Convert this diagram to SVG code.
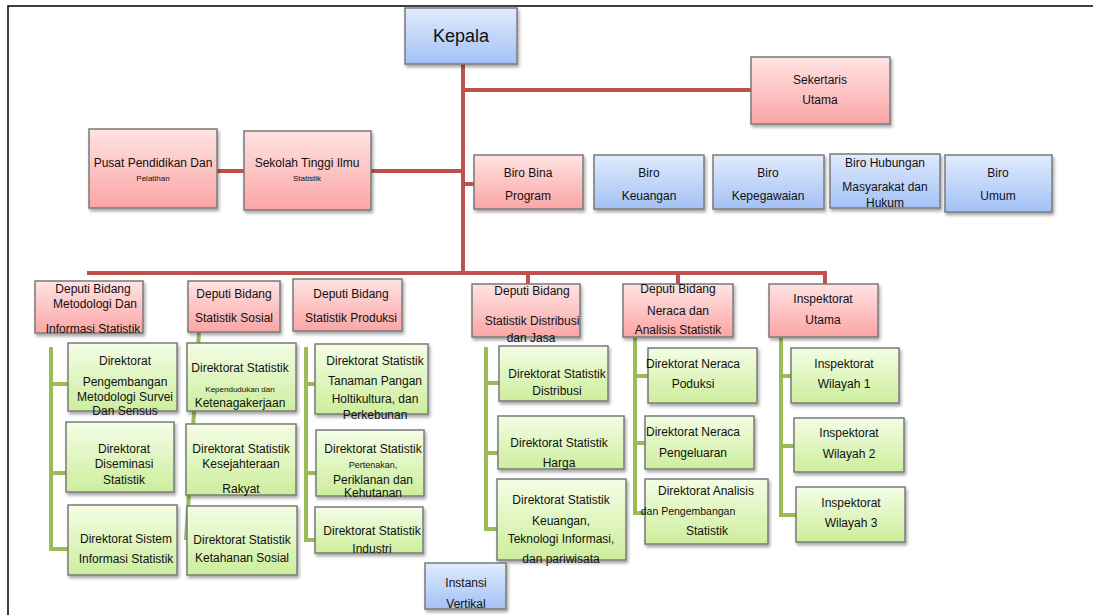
<svg xmlns="http://www.w3.org/2000/svg" width="1105" height="615" viewBox="0 0 1105 615">
<style>
text{font-family:"Liberation Sans",Arial,sans-serif;font-size:12px;fill:#111;text-anchor:middle}
.k{font-size:18px}
.s{font-size:8px}
.m{font-size:9px}
.box{stroke:#7a7a7a;stroke-width:1.5;filter:url(#sh)}
.red{fill:url(#gr)}
.blue{fill:url(#gb)}
.green{fill:url(#gg)}
.rl{stroke:#c0504d;stroke-width:4;fill:none}
.gl{stroke:#9bbb59;stroke-width:4;fill:none}
</style>
<defs>
<linearGradient id="gr" x1="0" y1="0" x2="0" y2="1"><stop offset="0" stop-color="#ffe3e3"/><stop offset="1" stop-color="#fba5a5"/></linearGradient>
<linearGradient id="gb" x1="0" y1="0" x2="0" y2="1"><stop offset="0" stop-color="#e0ebfd"/><stop offset="1" stop-color="#a3c1f5"/></linearGradient>
<linearGradient id="gg" x1="0" y1="0" x2="0" y2="1"><stop offset="0" stop-color="#f4fde6"/><stop offset="1" stop-color="#cdee9c"/></linearGradient>
<filter id="sh" x="-10%" y="-10%" width="130%" height="140%"><feDropShadow dx="1.5" dy="2.5" stdDeviation="1.8" flood-color="#000" flood-opacity="0.35"/></filter>
</defs>
<rect width="1105" height="615" fill="#fff"/>
<path d="M8,615 V6 H1093" fill="none" stroke="#000" stroke-width="1.5"/>
<g id="connectors">
<path class="rl" d="M463,64 V274 M461,90 H751 M217,171 H463 M463,184 H474 M87,273 H827 M528,273 V284 M678,273 V284 M825,273 V284"/>
<path class="gl" d="M51,347 V551 M51,384 H68 M51,473 H66 M51,549 H68"/>
<path class="gl" d="M199,332 L186,540"/>
<path class="gl" d="M306,347 V542 M306,384 H315 M306,473 H316 M306,540 H315"/>
<path class="gl" d="M486,347 V531 M486,383 H499 M486,453 H498 M486,529 H497"/>
<path class="gl" d="M635,337 V515 M635,376 H648 M635,443 H645 M635,513 H645"/>
<path class="gl" d="M781,337 V517 M781,376 H791 M781,446 H794 M781,515 H796"/>
</g>
<g id="kepala"><rect class="box blue" x="405" y="8" width="112" height="56"/><text class="k" x="461" y="42">Kepala</text></g>
<g id="sekertaris"><rect class="box red" x="751" y="57" width="139" height="67"/><text x="820" y="84">Sekertaris</text><text x="820" y="104">Utama</text></g>
<g id="pusat"><rect class="box red" x="89" y="129" width="128" height="79"/><text x="153" y="167">Pusat Pendidikan Dan</text><text class="s" x="153" y="181">Pelatihan</text></g>
<g id="sekolah"><rect class="box red" x="244" y="131" width="127" height="79"/><text x="307" y="167">Sekolah Tinggi Ilmu</text><text class="s" x="307" y="181">Statistik</text></g>
<g id="biro-bina"><rect class="box red" x="474" y="155" width="109" height="54"/><text x="528" y="177">Biro Bina</text><text x="528" y="200">Program</text></g>
<g id="biro-keuangan"><rect class="box blue" x="594" y="155" width="110" height="54"/><text x="649" y="177">Biro</text><text x="649" y="200">Keuangan</text></g>
<g id="biro-kepegawaian"><rect class="box blue" x="713" y="155" width="111" height="54"/><text x="768" y="177">Biro</text><text x="768" y="200">Kepegawaian</text></g>
<g id="biro-hubungan"><rect class="box blue" x="830" y="154" width="110" height="54"/><text x="885" y="167">Biro Hubungan</text><text x="885" y="191">Masyarakat dan</text><text x="885" y="207">Hukum</text></g>
<g id="biro-umum"><rect class="box blue" x="945" y="155" width="107" height="57"/><text x="998" y="177">Biro</text><text x="998" y="200">Umum</text></g>
<g id="deputi-metodologi"><rect class="box red" x="35" y="281" width="108" height="52"/><text x="93" y="293">Deputi Bidang</text><text x="95" y="308">Metodologi Dan</text><text x="93" y="333">Informasi Statistik</text></g>
<g id="deputi-sosial"><rect class="box red" x="188" y="281" width="92" height="51"/><text x="234" y="298">Deputi Bidang</text><text x="234" y="322">Statistik Sosial</text></g>
<g id="deputi-produksi"><rect class="box red" x="293" y="279" width="109" height="52"/><text x="351" y="298">Deputi Bidang</text><text x="351" y="322">Statistik Produksi</text></g>
<g id="deputi-distribusi"><rect class="box red" x="472" y="284" width="108" height="53"/><text x="532" y="295">Deputi Bidang</text><text x="532" y="325">Statistik Distribusi</text><text x="531" y="342">dan Jasa</text></g>
<g id="deputi-neraca"><rect class="box red" x="623" y="284" width="110" height="53"/><text x="678" y="293">Deputi Bidang</text><text x="678" y="315">Neraca dan</text><text x="678" y="334">Analisis Statistik</text></g>
<g id="inspektorat-utama"><rect class="box red" x="769" y="284" width="109" height="53"/><text x="823" y="303">Inspektorat</text><text x="823" y="324">Utama</text></g>
<g id="dir-pengembangan"><rect class="box green" x="68" y="343" width="109" height="68"/><text x="125" y="365">Direktorat</text><text x="125" y="386">Pengembangan</text><text x="125" y="401">Metodologi Survei</text><text x="125" y="415">Dan Sensus</text></g>
<g id="dir-diseminasi"><rect class="box green" x="66" y="422" width="108" height="70"/><text x="124" y="453">Direktorat</text><text x="124" y="468">Diseminasi</text><text x="124" y="484">Statistik</text></g>
<g id="dir-sistem"><rect class="box green" x="68" y="505" width="109" height="70"/><text x="126" y="543">Direktorat Sistem</text><text x="126" y="563">Informasi Statistik</text></g>
<g id="dir-kependudukan"><rect class="box green" x="187" y="343" width="109" height="68"/><text x="240" y="372">Direktorat Statistik</text><text class="s" x="240" y="392">Kependudukan dan</text><text x="240" y="407">Ketenagakerjaan</text></g>
<g id="dir-kesejahteraan"><rect class="box green" x="186" y="424" width="110" height="71"/><text x="241" y="453">Direktorat Statistik</text><text x="241" y="468">Kesejahteraan</text><text x="241" y="493">Rakyat</text></g>
<g id="dir-ketahanan"><rect class="box green" x="187" y="506" width="110" height="69"/><text x="242" y="544">Direktorat Statistik</text><text x="242" y="562">Ketahanan Sosial</text></g>
<g id="dir-tanaman"><rect class="box green" x="315" y="344" width="113" height="70"/><text x="375" y="365">Direktorat Statistik</text><text x="375" y="385">Tanaman Pangan</text><text x="375" y="403">Holtikultura, dan</text><text x="375" y="419">Perkebunan</text></g>
<g id="dir-pertenakan"><rect class="box green" x="316" y="430" width="108" height="66"/><text x="373" y="453">Direktorat Statistik</text><text class="m" x="373" y="468">Pertenakan,</text><text x="373" y="484">Periklanan dan</text><text x="373" y="497">Kehutanan</text></g>
<g id="dir-industri"><rect class="box green" x="315" y="507" width="108" height="46"/><text x="372" y="535">Direktorat Statistik</text><text x="372" y="553">Industri</text></g>
<g id="dir-distribusi"><rect class="box green" x="499" y="346" width="109" height="55"/><text x="557" y="378">Direktorat Statistik</text><text x="557" y="395">Distribusi</text></g>
<g id="dir-harga"><rect class="box green" x="498" y="416" width="126" height="53"/><text x="559" y="447">Direktorat Statistik</text><text x="559" y="467">Harga</text></g>
<g id="dir-keuangan"><rect class="box green" x="497" y="479" width="129" height="81"/><text x="561" y="504">Direktorat Statistik</text><text x="561" y="525">Keuangan,</text><text x="561" y="543">Teknologi Informasi,</text><text x="561" y="563">dan pariwisata</text></g>
<g id="dir-neraca-produksi"><rect class="box green" x="648" y="348" width="109" height="55"/><text x="693" y="368">Direktorat Neraca</text><text x="693" y="388">Poduksi</text></g>
<g id="dir-neraca-pengeluaran"><rect class="box green" x="645" y="416" width="109" height="53"/><text x="693" y="436">Direktorat Neraca</text><text x="693" y="457">Pengeluaran</text></g>
<g id="dir-analisis"><rect class="box green" x="645" y="479" width="123" height="65"/><text x="706" y="495">Direktorat Analisis</text><text x="688" y="515" style="font-size:10.5px">dan Pengembangan</text><text x="707" y="535">Statistik</text></g>
<g id="inspektorat-1"><rect class="box green" x="791" y="348" width="108" height="55"/><text x="844" y="368">Inspektorat</text><text x="844" y="388">Wilayah 1</text></g>
<g id="inspektorat-2"><rect class="box green" x="794" y="418" width="110" height="54"/><text x="849" y="437">Inspektorat</text><text x="849" y="458">Wilayah 2</text></g>
<g id="inspektorat-3"><rect class="box green" x="796" y="487" width="109" height="55"/><text x="851" y="507">Inspektorat</text><text x="851" y="527">Wilayah 3</text></g>
<g id="instansi-vertikal"><rect class="box blue" x="425" y="563" width="81" height="46"/><text x="466" y="587">Instansi</text><text x="466" y="608">Vertikal</text></g>
</svg>
